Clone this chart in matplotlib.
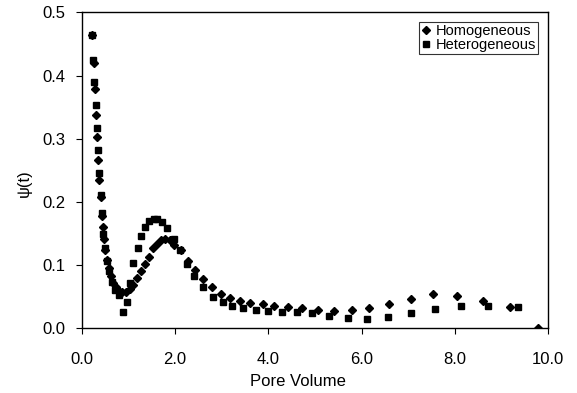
import matplotlib
matplotlib.use('Agg')
import matplotlib.pyplot as plt

plt.rcParams['font.family'] = ['Liberation Sans', 'DejaVu Sans']

# Homogeneous (diamonds)
homo_pv = [0.215, 0.27, 0.29, 0.30, 0.32, 0.35, 0.38, 0.41, 0.44, 0.46, 0.48, 0.51,
           0.55, 0.59, 0.62, 0.68, 0.73, 0.79, 0.86, 0.95, 1.04, 1.11, 1.19, 1.27,
           1.36, 1.44, 1.52, 1.61, 1.70, 1.79, 1.89, 1.98, 2.12, 2.27, 2.43, 2.61,
           2.79, 2.98, 3.18, 3.40, 3.60, 3.88, 4.13, 4.43, 4.73, 5.06, 5.40, 5.79,
           6.16, 6.59, 7.05, 7.54, 8.05, 8.60, 9.18, 9.79]
homo_psi = [0.464, 0.420, 0.378, 0.338, 0.302, 0.266, 0.235, 0.207, 0.177, 0.161, 0.142, 0.124,
            0.108, 0.095, 0.082, 0.071, 0.065, 0.059, 0.057, 0.058, 0.062, 0.068, 0.079, 0.090,
            0.101, 0.113, 0.127, 0.134, 0.140, 0.141, 0.140, 0.132, 0.124, 0.107, 0.092, 0.078,
            0.066, 0.055, 0.048, 0.043, 0.040, 0.038, 0.036, 0.034, 0.032, 0.029, 0.028, 0.029,
            0.032, 0.038, 0.047, 0.054, 0.051, 0.044, 0.034, 0.0]

# Heterogeneous (squares)
hetero_pv = [0.215, 0.25, 0.27, 0.30, 0.32, 0.36, 0.38, 0.41, 0.44, 0.46, 0.49, 0.54,
             0.58, 0.64, 0.71, 0.79, 0.89, 0.97, 1.04, 1.11, 1.20, 1.27, 1.36, 1.45,
             1.54, 1.62, 1.72, 1.82, 1.97, 2.11, 2.25, 2.41, 2.61, 2.81, 3.02, 3.23,
             3.45, 3.74, 4.00, 4.29, 4.61, 4.94, 5.31, 5.71, 6.12, 6.57, 7.06, 7.58,
             8.13, 8.71, 9.36]
hetero_psi = [0.464, 0.424, 0.389, 0.353, 0.317, 0.282, 0.245, 0.211, 0.182, 0.150, 0.127, 0.107,
              0.090, 0.074, 0.061, 0.053, 0.026, 0.042, 0.071, 0.103, 0.127, 0.146, 0.161, 0.170,
              0.173, 0.173, 0.169, 0.158, 0.142, 0.124, 0.102, 0.082, 0.065, 0.050, 0.042, 0.035,
              0.032, 0.029, 0.027, 0.026, 0.026, 0.024, 0.020, 0.016, 0.015, 0.018, 0.025, 0.030,
              0.035, 0.036, 0.034]

fig = plt.figure(figsize=(5.77, 3.93), dpi=100)
ax = fig.add_axes([0.1416, 0.1646, 0.8084, 0.8041])

ax.plot(homo_pv, homo_psi, 'D', color='black', markersize=4.3, label='Homogeneous')
ax.plot(hetero_pv, hetero_psi, 's', color='black', markersize=4.8, label='Heterogeneous')

ax.set_xlim(0, 10)
ax.set_ylim(0, 0.5)
ax.set_xticks([0, 2, 4, 6, 8, 10])
ax.set_yticks([0, 0.1, 0.2, 0.3, 0.4, 0.5])
ax.set_xticklabels(['0.0', '2.0', '4.0', '6.0', '8.0', '10.0'])
ax.set_yticklabels(['0.0', '0.1', '0.2', '0.3', '0.4', '0.5'])
ax.tick_params(direction='out', length=4, labelsize=12, colors='black')
ax.tick_params(axis='x', pad=13)
ax.tick_params(axis='y', pad=8)
ax.set_xlabel('Pore Volume', fontsize=12)
ax.set_ylabel('ψ(t)', fontsize=12)
ax.xaxis.set_label_coords(0.464, -0.145)
ax.yaxis.set_label_coords(-0.106, 0.46)
for s in ax.spines.values():
    s.set_color('black')
    s.set_linewidth(1.0)

leg = ax.legend(loc='upper right', fontsize=10.5, frameon=True, fancybox=False,
                edgecolor='black', handletextpad=0.3, handlelength=0.7,
                borderpad=0.15, labelspacing=-0.02, borderaxespad=0,
                bbox_to_anchor=(0.979, 0.969))
leg.get_frame().set_linewidth(0.8)

fig.savefig('out.png', dpi=100)
